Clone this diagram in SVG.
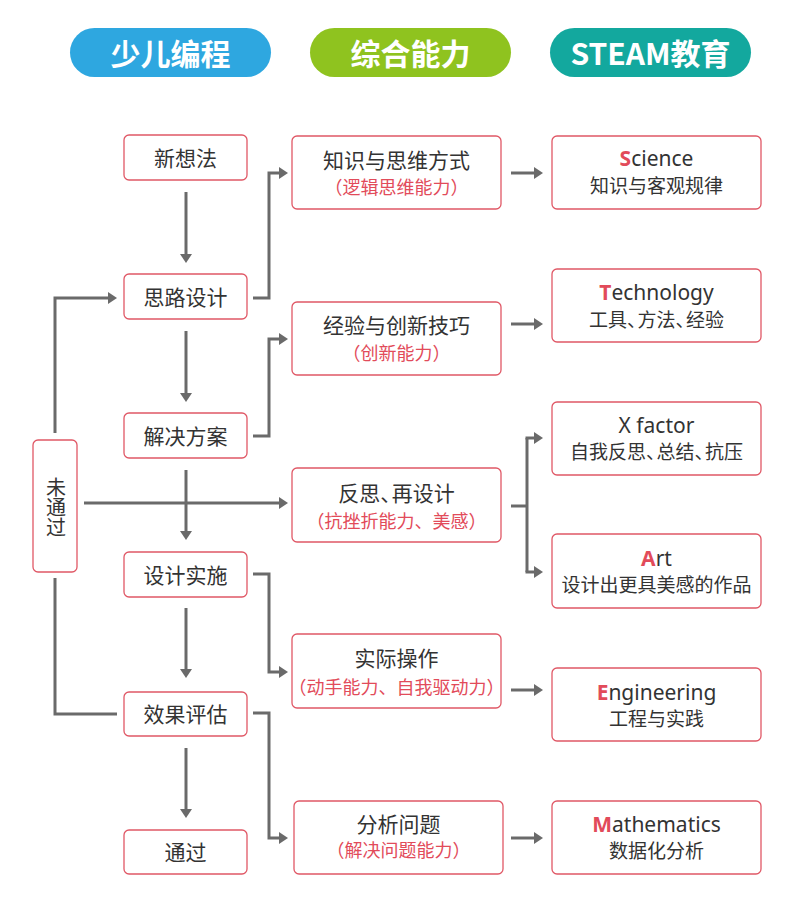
<svg xmlns="http://www.w3.org/2000/svg" width="792" height="910" viewBox="0 0 792 910">
<defs>
<marker id="ah" markerUnits="userSpaceOnUse" markerWidth="10" markerHeight="12" refX="0" refY="6" orient="auto">
<path d="M0,0 L9,6 L0,12 z" fill="#6a6a6a"/>
</marker>
<style>
.box{fill:#fff;stroke:#e05866;stroke-width:1.3}
.t{font-family:"Noto Sans","Noto Sans CJK SC",sans-serif;fill:#333;text-anchor:middle;dominant-baseline:central}
.lt{font-size:21px}
.vt{font-size:20px;writing-mode:vertical-rl}
.mt{font-size:21px}
.rs{font-size:18px;fill:#e24b5a}
.rl{font-size:21px}
.r2{font-size:19px}
.red{fill:#e24b5a;font-weight:bold}
.pc{letter-spacing:-0.45em}
.hd{font-family:"Noto Sans CJK SC","Noto Sans",sans-serif;font-size:30px;font-weight:bold;fill:#fff;text-anchor:middle;dominant-baseline:central}
.c{fill:none;stroke:#6a6a6a;stroke-width:3}
.ca{fill:none;stroke:#6a6a6a;stroke-width:3;marker-end:url(#ah)}
</style>
</defs>
<rect width="792" height="910" fill="#fff"/>
<g id="header">
<rect x="70" y="28" width="201" height="49" rx="24.5" fill="#2ea7e0"/>
<text class="hd" x="170.5" y="52">少儿编程</text>
<rect x="310" y="28" width="201" height="49" rx="24.5" fill="#8fc31f"/>
<text class="hd" x="410.5" y="52">综合能力</text>
<rect x="550" y="28" width="201" height="49" rx="24.5" fill="#13a89e"/>
<text class="hd" x="650.5" y="52">STEAM教育</text>
</g>
<g id="connectors">
<line class="ca" x1="186" y1="192" x2="186" y2="254"/>
<line class="ca" x1="186" y1="331" x2="186" y2="393"/>
<line class="ca" x1="186" y1="470" x2="186" y2="531"/>
<line class="ca" x1="186" y1="608" x2="186" y2="669"/>
<line class="ca" x1="186" y1="748" x2="186" y2="809"/>
<polyline class="ca" points="55,433 55,298 108,298"/>
<polyline class="c" points="55,578 55,714 117,714"/>
<line class="ca" x1="84" y1="503" x2="279" y2="503"/>
<polyline class="ca" points="253,298 269,298 269,173 279,173"/>
<polyline class="ca" points="253,436 269,436 269,339 279,339"/>
<polyline class="ca" points="253,574 269,574 269,672 279,672"/>
<polyline class="ca" points="253,713 269,713 269,838 279,838"/>
<line class="ca" x1="511" y1="173" x2="534" y2="173"/>
<line class="ca" x1="511" y1="324" x2="534" y2="324"/>
<line class="ca" x1="511" y1="690" x2="534" y2="690"/>
<line class="ca" x1="511" y1="838" x2="534" y2="838"/>
<line class="c" x1="511" y1="506" x2="527" y2="506"/>
<line class="c" x1="527" y1="438" x2="527" y2="572"/>
<line class="ca" x1="525.5" y1="438" x2="534" y2="438"/>
<line class="ca" x1="525.5" y1="572" x2="534" y2="572"/>
</g>
<g id="n-xinxiangfa"><rect class="box" x="124" y="135" width="123" height="45" rx="5"/><text class="t lt" x="185.5" y="157.5">新想法</text></g>
<g id="n-silusheji"><rect class="box" x="124" y="274" width="123" height="45" rx="5"/><text class="t lt" x="185.5" y="296.5">思路设计</text></g>
<g id="n-jiejuefangan"><rect class="box" x="124" y="413" width="123" height="45" rx="5"/><text class="t lt" x="185.5" y="435.5">解决方案</text></g>
<g id="n-shejishishi"><rect class="box" x="124" y="552" width="123" height="45" rx="5"/><text class="t lt" x="185.5" y="574.5">设计实施</text></g>
<g id="n-xiaoguopinggu"><rect class="box" x="124" y="692" width="123" height="44" rx="5"/><text class="t lt" x="185.5" y="714">效果评估</text></g>
<g id="n-tongguo"><rect class="box" x="124" y="830" width="123" height="44" rx="5"/><text class="t lt" x="185.5" y="852">通过</text></g>
<g id="n-weitongguo"><rect class="box" x="33" y="440" width="44" height="132" rx="5"/>
<text class="t vt" x="55" y="507">未通过</text></g>
<g id="n-zhishi"><rect class="box" x="292" y="136" width="209" height="73" rx="5"/><text class="t mt" x="396.5" y="160">知识与思维方式</text><text class="t rs" x="396.5" y="187">（逻辑思维能力）</text></g>
<g id="n-jingyan"><rect class="box" x="292" y="302" width="209" height="73" rx="5"/><text class="t mt" x="396.5" y="325">经验与创新技巧</text><text class="t rs" x="396.5" y="353">（创新能力）</text></g>
<g id="n-fansi"><rect class="box" x="292" y="468" width="209" height="74" rx="5"/><text class="t mt" x="396.5" y="493">反思<tspan class="pc">、</tspan>再设计</text><text class="t rs" x="396.5" y="521">（抗挫折能力、美感）</text></g>
<g id="n-shiji"><rect class="box" x="292" y="634" width="209" height="74" rx="5"/><text class="t mt" x="396.5" y="658">实际操作</text><text class="t rs" x="396.5" y="687">（动手能力、自我驱动力）</text></g>
<g id="n-fenxi"><rect class="box" x="294" y="801" width="209" height="73" rx="5"/><text class="t mt" x="398.5" y="824">分析问题</text><text class="t rs" x="398.5" y="850">（解决问题能力）</text></g>
<g id="n-science"><rect class="box" x="552" y="136" width="209" height="73" rx="5"/><text class="t rl" x="656.5" y="158"><tspan class="red">S</tspan>cience</text><text class="t r2" x="656.5" y="186">知识与客观规律</text></g>
<g id="n-technology"><rect class="box" x="552" y="269" width="209" height="73" rx="5"/><text class="t rl" x="656.5" y="292"><tspan class="red">T</tspan>echnology</text><text class="t r2" x="656.5" y="320">工具<tspan class="pc">、</tspan>方法<tspan class="pc">、</tspan>经验</text></g>
<g id="n-xfactor"><rect class="box" x="552" y="402" width="209" height="73" rx="5"/><text class="t rl" x="656.5" y="425">X factor</text><text class="t r2" x="656.5" y="452">自我反思<tspan class="pc">、</tspan>总结<tspan class="pc">、</tspan>抗压</text></g>
<g id="n-art"><rect class="box" x="552" y="534" width="209" height="74" rx="5"/><text class="t rl" x="656.5" y="558"><tspan class="red">A</tspan>rt</text><text class="t r2" x="656.5" y="585">设计出更具美感的作品</text></g>
<g id="n-engineering"><rect class="box" x="552" y="668" width="209" height="73" rx="5"/><text class="t rl" x="656.5" y="692"><tspan class="red">E</tspan>ngineering</text><text class="t r2" x="656.5" y="719">工程与实践</text></g>
<g id="n-mathematics"><rect class="box" x="552" y="801" width="209" height="73" rx="5"/><text class="t rl" x="656.5" y="824"><tspan class="red">M</tspan>athematics</text><text class="t r2" x="656.5" y="851">数据化分析</text></g>
</svg>
